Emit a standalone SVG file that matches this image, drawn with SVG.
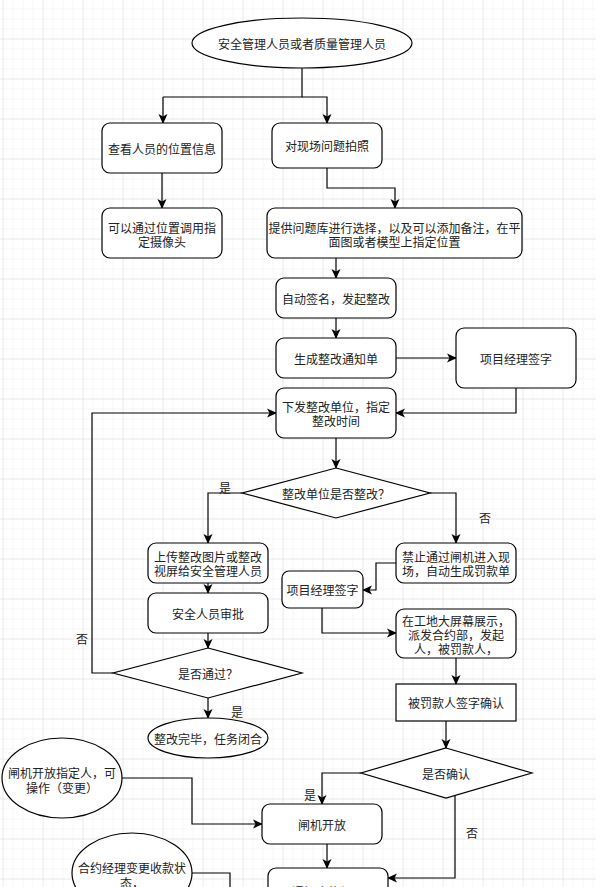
<svg xmlns="http://www.w3.org/2000/svg" width="596" height="887" viewBox="0 0 596 887">
<defs>
<pattern id="minor" x="2.5" y="-1.5" width="10" height="10" patternUnits="userSpaceOnUse"><path d="M0,0 H10 M0,0 V10" fill="none" stroke="#efefef" stroke-width="1"/></pattern>
<pattern id="major" x="2.5" y="-1.5" width="40" height="40" patternUnits="userSpaceOnUse"><path d="M0,0 H40 M0,0 V40" fill="none" stroke="#dedede" stroke-width="1"/></pattern>
<marker id="arr" markerWidth="10" markerHeight="10" refX="9" refY="5" orient="auto" markerUnits="userSpaceOnUse" viewBox="0 0 10 10"><path d="M0,0.5 L10,5 L0,9.5 L2.5,5 z" fill="#000"/></marker>
</defs>
<style>
.n{fill:#fff;stroke:#000;stroke-width:1.2}
.t{font-family:"Noto Sans CJK SC","Noto Sans",sans-serif;font-size:12px;fill:#222;text-anchor:middle;dominant-baseline:central}
.c{fill:none;stroke:#000;stroke-width:1.2}
.a{marker-end:url(#arr)}
</style>
<rect width="596" height="887" fill="#fff"/>
<rect width="596" height="887" fill="url(#minor)"/>
<rect width="596" height="887" fill="url(#major)"/>

<g id="connectors">
<path class="c" d="M302,68 V97 H163"/>
<path class="c a" d="M163,97 V123"/>
<path class="c a" d="M302,97 H327 V123"/>
<path class="c a" d="M162,173 V208"/>
<path class="c a" d="M327,168 V188 H395 V208"/>
<path class="c a" d="M336,258 V278"/>
<path class="c a" d="M336,318 V338"/>
<path class="c a" d="M396,358 H456"/>
<path class="c a" d="M516,388 V413 H396"/>
<path class="c a" d="M336,438 V468"/>
<path class="c a" d="M242,493 H208 V543"/>
<path class="c a" d="M430,493 H456 V543"/>
<path class="c a" d="M208,583 V593"/>
<path class="c a" d="M208,633 V648"/>
<path class="c a" d="M113,673 H92 V413 H276"/>
<path class="c a" d="M208,698 V718"/>
<path class="c a" d="M396,563 H376 V590 H363"/>
<path class="c a" d="M322,608 V633 H396"/>
<path class="c a" d="M456,658 V684"/>
<path class="c a" d="M446,721 V748"/>
<path class="c a" d="M361,773 H322 V804"/>
<path class="c a" d="M455,795 V878 H388"/>
<path class="c a" d="M122,778 H192 V824 H262"/>
<path class="c a" d="M327,844 V868"/>
<path class="c a" d="M192,873 H230 V893 H268"/>
<text class="t" x="225" y="487">是</text>
<text class="t" x="485" y="517">否</text>
<text class="t" x="82" y="638">否</text>
<text class="t" x="237" y="711">是</text>
<text class="t" x="310" y="794">是</text>
<text class="t" x="472" y="832">否</text>
</g>

<g id="start"><ellipse class="n" cx="302" cy="43" rx="110" ry="25"/><text class="t" x="302" y="43">安全管理人员或者质量管理人员</text></g>
<g id="view-location"><rect class="n" x="102" y="123" width="120" height="50" rx="8"/><text class="t" x="162" y="148">查看人员的位置信息</text></g>
<g id="photo"><rect class="n" x="272" y="123" width="110" height="45" rx="8"/><text class="t" x="327" y="145.5">对现场问题拍照</text></g>
<g id="camera"><rect class="n" x="102" y="208" width="120" height="50" rx="8"/><text class="t" x="162" y="227">可以通过位置调用指</text><text class="t" x="162" y="241">定摄像头</text></g>
<g id="problem-lib"><rect class="n" x="267" y="208" width="255" height="50" rx="8"/><text class="t" x="394.5" y="227">提供问题库进行选择，以及可以添加备注，在平</text><text class="t" x="394.5" y="241">面图或者模型上指定位置</text></g>
<g id="auto-sign"><rect class="n" x="276" y="278" width="120" height="40" rx="8"/><text class="t" x="336" y="298">自动签名，发起整改</text></g>
<g id="notice"><rect class="n" x="276" y="338" width="120" height="40" rx="8"/><text class="t" x="336" y="358">生成整改通知单</text></g>
<g id="pm-sign-1"><rect class="n" x="456" y="328" width="120" height="60" rx="8"/><text class="t" x="516" y="358">项目经理签字</text></g>
<g id="dispatch"><rect class="n" x="276" y="388" width="120" height="50" rx="8"/><text class="t" x="336" y="406">下发整改单位，指定</text><text class="t" x="336" y="420">整改时间</text></g>
<g id="d-rectify"><polygon class="n" points="336,468 430,493 336,518 242,493"/><text class="t" x="336" y="493">整改单位是否整改？</text></g>
<g id="upload"><rect class="n" x="148" y="543" width="120" height="40" rx="8"/><text class="t" x="208" y="556">上传整改图片或整改</text><text class="t" x="208" y="570">视屏给安全管理人员</text></g>
<g id="approve"><rect class="n" x="148" y="593" width="120" height="40" rx="8"/><text class="t" x="208" y="613">安全人员审批</text></g>
<g id="d-pass"><polygon class="n" points="208,648 302,673 208,698 113,673"/><text class="t" x="208" y="673">是否通过？</text></g>
<g id="done"><ellipse class="n" cx="208" cy="738" rx="60" ry="20"/><text class="t" x="208" y="738">整改完毕，任务闭合</text></g>
<g id="forbid"><rect class="n" x="396" y="543" width="120" height="40" rx="8"/><text class="t" x="456" y="556">禁止通过闸机进入现</text><text class="t" x="456" y="570">场，自动生成罚款单</text></g>
<g id="pm-sign-2"><rect class="n" x="282" y="571" width="81" height="37" rx="7"/><text class="t" x="322.5" y="589.5">项目经理签字</text></g>
<g id="screen"><rect class="n" x="396" y="609" width="120" height="49" rx="8"/><text class="t" x="456" y="620">在工地大屏幕展示，</text><text class="t" x="456" y="634">派发合约部，发起</text><text class="t" x="456" y="648">人，被罚款人，</text></g>
<g id="fined-sign"><rect class="n" x="396" y="684" width="120" height="37"/><text class="t" x="456" y="702.5">被罚款人签字确认</text></g>
<g id="d-confirm"><polygon class="n" points="446,748 532,773 446,798 361,773"/><text class="t" x="446" y="773">是否确认</text></g>
<g id="gate-open"><rect class="n" x="262" y="804" width="120" height="40" rx="8"/><text class="t" x="322" y="824">闸机开放</text></g>
<g id="gate-person"><ellipse class="n" cx="62" cy="778" rx="60" ry="40"/><text class="t" x="62" y="772">闸机开放指定人，可</text><text class="t" x="62" y="787">操作（变更）</text></g>
<g id="contract-change"><ellipse class="n" cx="132" cy="873" rx="60" ry="40"/><text class="t" x="132" y="867">合约经理变更收款状</text><text class="t" x="132" y="882">态，</text></g>
<g id="notify"><rect class="n" x="268" y="868" width="120" height="40" rx="8"/><text class="t" x="328" y="891">通知合约经理</text></g>
</svg>
